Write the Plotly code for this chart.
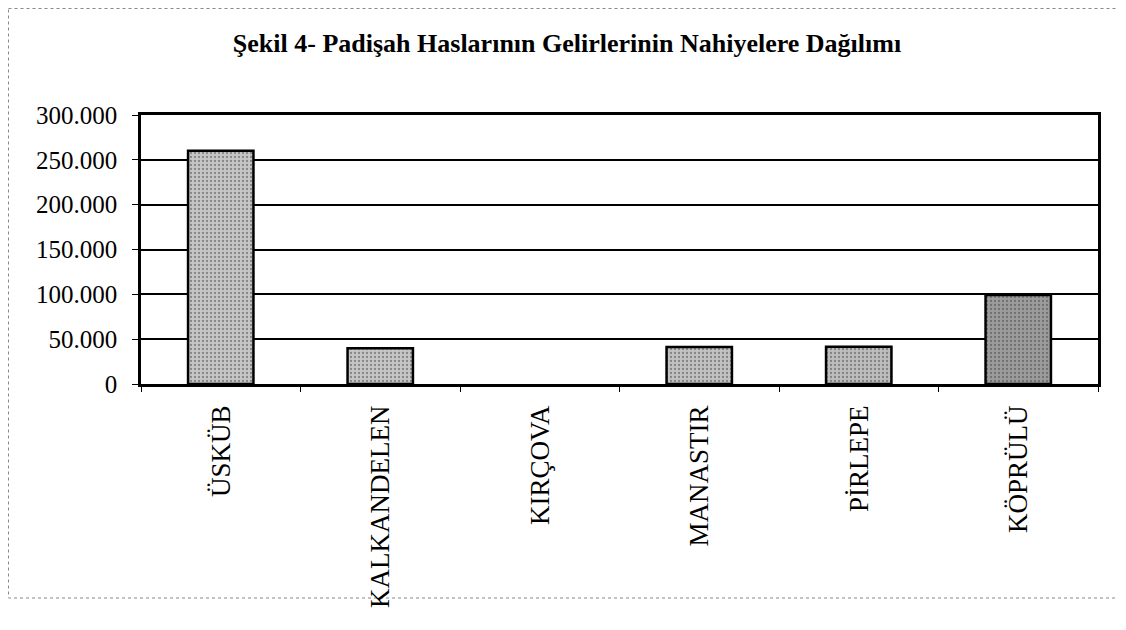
import plotly.graph_objects as go

categories = ["ÜSKÜB", "KALKANDELEN", "KIRÇOVA", "MANASTIR", "PİRLEPE", "KÖPRÜLÜ"]
values = [260000, 40000, 0, 41300, 41600, 99300]
bar_colors = ["#c6c6c6", "#c6c6c6", "#c6c6c6", "#c2c2c2", "#bdbdbd", "#9c9c9c"]
y_ticks = [0, 50000, 100000, 150000, 200000, 250000, 300000]
title_text = "Şekil 4- Padişah Haslarının Gelirlerinin Nahiyelere Dağılımı"

# page body has an 8px margin; figure sized to fit the window
OFF = 8
W, H = 1126 - OFF, 630 - OFF
L, T = 141 - OFF, 115 - OFF
R = W - (1098 - OFF)
B = H - (384 - OFF)

line_widths = [2.5 if v > 0 else 0 for v in values]

fig = go.Figure()
fig.add_trace(go.Bar(
    x=categories,
    y=values,
    width=0.41,
    marker=dict(
        color=bar_colors,
        line=dict(color="black", width=line_widths),
        pattern=dict(shape=".", fgcolor="#7a7a7a", bgcolor="#d0d0d0", size=4, solidity=0.25),
    ),
    showlegend=False,
))

pw = W - L - R
ph = H - T - B

def px_x(x):
    return (x - L) / pw

def px_y(y):
    return (H - B - y) / ph

fig.update_layout(
    width=W, height=H,
    margin=dict(l=L, r=R, t=T, b=B),
    paper_bgcolor="white",
    plot_bgcolor="white",
    separators=",.",
    font=dict(family="Liberation Serif, Times New Roman, serif", color="black"),
    title=dict(
        text="<b>" + title_text + "</b>",
        x=0.5, xanchor="center",
        y=1 - (43 - OFF) / H, yanchor="middle",
        font=dict(size=26, family="Liberation Serif, serif", color="black"),
    ),
    xaxis=dict(
        type="category",
        tickangle=-90,
        tickfont=dict(size=27, family="Liberation Serif, serif", color="black"),
        showline=True, linecolor="black", linewidth=2.5,
        mirror=True,
        ticks="outside", ticklen=5, tickcolor="black", tickson="boundaries",
        ticklabelstandoff=8,
        showgrid=False,
    ),
    yaxis=dict(
        range=[0, 300000],
        tickvals=y_ticks,
        tickformat=",d",
        tickfont=dict(size=25, family="Liberation Serif, serif", color="black"),
        showline=True, linecolor="black", linewidth=2.5,
        mirror=True,
        ticks="outside", ticklen=6, tickcolor="black",
        ticklabelstandoff=10,
        showgrid=True, gridcolor="black", gridwidth=2,
        zeroline=False,
    ),
    bargap=0.59,
    shapes=[dict(
        type="rect", xref="paper", yref="paper",
        x0=px_x(0.5), x1=px_x(1122 - OFF), y0=px_y(0.5), y1=px_y(598 - OFF),
        line=dict(color="#888888", width=1, dash="dot"),
        layer="below",
    )],
)

fig.write_html("out.html")
